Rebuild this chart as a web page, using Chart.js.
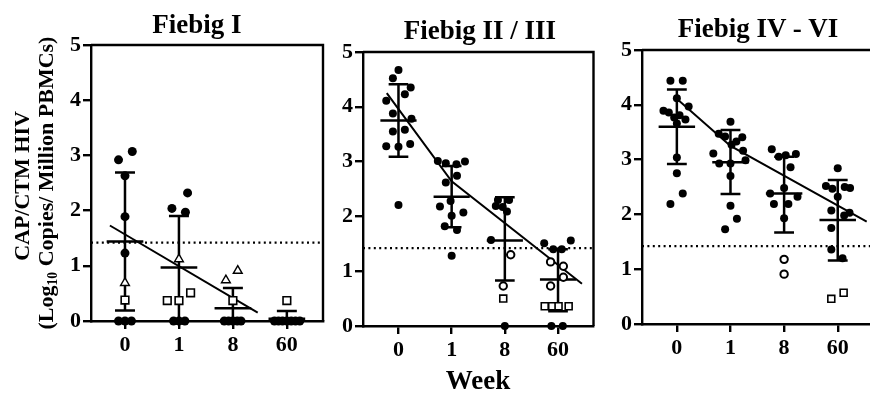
<!DOCTYPE html>
<html><head><meta charset="utf-8">
<script src="https://cdn.jsdelivr.net/npm/chart.js@4.4.1/dist/chart.umd.min.js"></script>
<style>
html,body{margin:0;padding:0;background:#fff;width:870px;height:393px;overflow:hidden;}
#wrap{position:relative;width:870px;height:393px;overflow:hidden;font-family:"Liberation Serif","Times New Roman",serif;font-weight:bold;color:#000;}
canvas{position:absolute;top:0;}
.t{position:absolute;white-space:nowrap;text-align:center;font-size:27px;line-height:27px;width:240px;}
.yl{position:absolute;white-space:nowrap;text-align:center;font-size:22px;line-height:22px;width:340px;transform:rotate(-90deg);transform-origin:50% 50%;}
.sub{font-size:0.62em;vertical-align:-0.3em;line-height:0;}
</style></head>
<body><div id="wrap">
<canvas id="c1" width="330" height="393" style="left:0px"></canvas>
<canvas id="c2" width="270" height="393" style="left:330px"></canvas>
<canvas id="c3" width="280" height="393" style="left:600px"></canvas>
<div class="t" style="left:77px;top:11px">Fiebig I</div>
<div class="t" style="left:360px;top:17px">Fiebig II / III</div>
<div class="t" style="left:638px;top:15px">Fiebig IV - VI</div>
<div class="t" style="left:358px;top:367px">Week</div>
<div class="yl" style="left:-148px;top:175px">CAP/CTM HIV</div>
<div class="yl" style="left:-124px;top:172px">(Log<span class="sub">10</span> Copies/ Million PBMCs)</div>
</div>
<script>
// ---------------- DATA ----------------
const categories = ['0', '1', '8', '60'];   // week labels
const yTicks = [0, 1, 2, 3, 4, 5];
const LOD = 1.42;                            // dotted detection limit

// points: [week index, horizontal jitter (category units), log10 value]
// Fiebig I
const fI_filled = [[0,-0.12,2.92],[0,0.135,3.07],[0,0,2.63],[0,0,1.89],[0,0,1.23],[0,-0.12,0],[0,0,0],[0,0.12,0],
  [1,0.16,2.32],[1,-0.13,2.04],[1,0.12,1.97],[1,-0.1,0],[1,0,0],[1,0.11,0],
  [2,-0.16,0],[2,-0.08,0],[2,0,0],[2,0.08,0],[2,0.15,0],
  [3,-0.23,0],[3,-0.155,0],[3,-0.08,0],[3,0,0],[3,0.08,0],[3,0.16,0],[3,0.24,0]];
const fI_triangles = [[0,0,0.69],[1,0,1.12],[2,-0.13,0.74],[2,0.09,0.91]];
const fI_squares = [[0,0,0.38],[1,-0.216,0.37],[1,0,0.37],[1,0.216,0.51],[2,0,0.37],[3,0,0.37]];
const fI_circlesOpen = [];
const fI_mean = [1.44, 0.97, 0.23, 0.04];
const fI_sdHi = [2.69, 1.90, 0.60, 0.18];
const fI_sdLo = [0.19, 0, 0, 0];
const fI_fit = [[-0.28, 1.73], [2.46, 0.15]];

// Fiebig II / III
const fII_filled = [[0,0,4.67],[0,-0.105,4.52],[0,0.23,4.35],[0,0.12,4.23],[0,-0.23,4.11],[0,-0.105,3.88],[0,0.245,3.78],[0,0.12,3.58],[0,-0.105,3.55],[0,-0.23,3.28],[0,0,3.27],[0,0.22,3.32],[0,0,2.21],
  [1,-0.26,3.01],[1,-0.11,2.97],[1,0.09,2.95],[1,0.25,3.0],[1,0.1,2.74],[1,-0.11,2.62],[1,-0.22,2.18],[1,-0.02,2.28],[1,0.22,2.07],[1,0,2.01],[1,-0.13,1.82],[1,0.1,1.75],[1,0,1.28],
  [2,-0.13,2.30],[2,0.08,2.30],[2,-0.17,2.19],[2,-0.04,2.17],[2,0.04,2.09],[2,-0.26,1.57],[2,0,0],
  [3,-0.26,1.51],[3,-0.09,1.40],[3,0.07,1.40],[3,0.24,1.56],[3,-0.125,0],[3,0.09,0]];
const fII_circlesOpen = [[2,0.11,1.30],[2,-0.03,0.73],[3,-0.14,1.17],[3,0.1,1.09],[3,0.1,0.89],[3,-0.14,0.73]];
const fII_squares = [[2,-0.03,0.50],[3,-0.25,0.36],[3,-0.11,0.36],[3,0.01,0.36],[3,0.2,0.36]];
const fII_triangles = [];
const fII_mean = [3.75, 2.36, 1.56, 0.85];
const fII_sdHi = [4.41, 2.92, 2.35, 1.40];
const fII_sdLo = [3.09, 1.80, 0.83, 0.27];
const fII_fit = [[-0.22, 4.25], [1, 2.64], [3.45, 0.77]];

// Fiebig IV - VI
const fIV_filled = [[0,-0.12,4.44],[0,0.11,4.44],[0,0,4.12],[0,-0.25,3.89],[0,-0.15,3.86],[0,-0.05,3.77],[0,0.05,3.81],[0,0.22,3.97],[0,0.16,3.73],[0,0,3.66],[0,0,3.04],[0,0,2.75],[0,0.11,2.38],[0,-0.12,2.19],
  [1,0,3.69],[1,-0.22,3.47],[1,-0.1,3.42],[1,0.22,3.41],[1,0.11,3.33],[1,0.02,3.27],[1,0.235,3.16],[1,-0.32,3.11],[1,-0.21,2.93],[1,0,2.93],[1,0.28,2.99],[1,0,2.70],[1,0,2.16],[1,0.12,1.92],[1,-0.1,1.73],
  [2,-0.23,3.19],[2,-0.1,3.05],[2,0.03,3.08],[2,0.22,3.10],[2,0.12,2.86],[2,0,2.48],[2,-0.26,2.38],[2,0.25,2.32],[2,-0.19,2.19],[2,0.08,2.19],[2,0,1.93],
  [3,0,2.84],[3,-0.22,2.52],[3,-0.1,2.47],[3,0.13,2.50],[3,0.23,2.48],[3,0,2.32],[3,-0.12,2.07],[3,0.12,1.98],[3,0.22,2.03],[3,-0.12,1.75],[3,-0.12,1.36],[3,0.09,1.20]];
const fIV_circlesOpen = [[2,0,1.18],[2,0,0.91]];
const fIV_squares = [[3,-0.12,0.46],[3,0.11,0.57]];
const fIV_triangles = [];
const fIV_mean = [3.60, 2.95, 2.38, 1.90];
const fIV_sdHi = [4.28, 3.54, 3.05, 2.63];
const fIV_sdLo = [2.92, 2.37, 1.67, 1.16];
const fIV_fit = [[0.02, 4.09], [1, 3.25], [3.54, 1.87]];

// ---------------- STYLE / LAYOUT ----------------
const CAP = 0.185, MEANW = 0.34;
const FONT = 'Liberation Serif';
Chart.defaults.font.family = FONT;
Chart.defaults.font.weight = 'bold';
Chart.defaults.color = '#000';

const boxPlugin = {
  id: 'box',
  beforeDatasetsDraw(chart) {
    const {ctx, chartArea: a} = chart;
    ctx.save();
    ctx.strokeStyle = '#000'; ctx.lineWidth = 2.4;
    ctx.beginPath();
    ctx.moveTo(a.left, a.top); ctx.lineTo(a.right, a.top); ctx.lineTo(a.right, a.bottom);
    ctx.stroke();
    ctx.restore();
  }
};

const toXY = arr => arr.map(([w, dx, v]) => ({x: w + dx, y: v}));

function makePanel(id, p) {
  const eb = [];
  p.mean.forEach((m, i) => {
    eb.push({x: i, y: p.lo[i]}, {x: i, y: p.hi[i]}, {x: i, y: null});
    eb.push({x: i - CAP, y: p.hi[i]}, {x: i + CAP, y: p.hi[i]}, {x: i, y: null});
    if (p.lo[i] > 0) eb.push({x: i - CAP, y: p.lo[i]}, {x: i + CAP, y: p.lo[i]}, {x: i, y: null});
    eb.push({x: i - MEANW, y: m}, {x: i + MEANW, y: m}, {x: i, y: null});
  });
  const datasets = [
    {type: 'scatter', data: toXY(p.circlesOpen), pointStyle: 'circle', pointRadius: p.r - 0.3,
      pointBackgroundColor: '#fff', pointBorderColor: '#000', pointBorderWidth: 2, order: 0, clip: false},
    {type: 'scatter', data: toXY(p.squares), pointStyle: 'rect', pointRadius: p.r + 0.9,
      pointBackgroundColor: '#fff', pointBorderColor: '#000', pointBorderWidth: 1.6, order: 0, clip: false},
    {type: 'scatter', data: toXY(p.triangles), pointStyle: 'triangle', pointRadius: p.r + 0.6,
      pointBackgroundColor: '#fff', pointBorderColor: '#000', pointBorderWidth: 1.4, order: 0, clip: false},
    {type: 'scatter', data: toXY(p.filled), pointStyle: 'circle', pointRadius: p.r,
      pointBackgroundColor: '#000', pointBorderColor: '#000', pointBorderWidth: 0, order: 1, clip: false},
    {type: 'line', data: eb, borderColor: '#000', borderWidth: 2.5, pointRadius: 0, spanGaps: false, order: 2, clip: false},
    {type: 'line', data: p.fit.map(([x, y]) => ({x, y})), borderColor: '#000', borderWidth: 2, pointRadius: 0, order: 3, clip: false},
    {type: 'line', data: [{x: p.xmin, y: LOD}, {x: p.xmax, y: LOD}], borderColor: '#000', borderWidth: 2.2,
      borderDash: [2, 3.4], pointRadius: 0, order: 4}
  ];
  return new Chart(document.getElementById(id), {
    data: {datasets},
    options: {
      responsive: false, animation: false, events: [],
      layout: {padding: p.pad},
      plugins: {legend: {display: false}, tooltip: {enabled: false}},
      scales: {
        x: {
          type: 'linear', min: p.xmin, max: p.xmax,
          afterBuildTicks: s => { s.ticks = categories.map((c, i) => ({value: i})); },
          afterFit: s => { s.height = 40; },
          ticks: {callback: v => categories[v], font: {size: 22, weight: 'bold', family: FONT}, color: '#000', padding: 3, maxRotation: 0, autoSkip: false},
          grid: {drawOnChartArea: false, drawTicks: true, tickLength: 8, tickWidth: 2.4, tickColor: '#000', color: '#000', lineWidth: 2.4},
          border: {display: true, color: '#000', width: 2.4}
        },
        y: {
          type: 'linear', min: 0, max: 5,
          afterBuildTicks: s => { s.ticks = yTicks.map(v => ({value: v})); },
          afterFit: s => { s.width = 30; },
          ticks: {font: {size: 22, weight: 'bold', family: FONT}, color: '#000', padding: 2},
          grid: {drawOnChartArea: false, drawTicks: true, tickLength: 8, tickWidth: 2.4, tickColor: '#000', color: '#000', lineWidth: 2.4},
          border: {display: true, color: '#000', width: 2.4}
        }
      }
    },
    plugins: [boxPlugin]
  });
}

makePanel('c1', {filled: fI_filled, circlesOpen: fI_circlesOpen, squares: fI_squares, triangles: fI_triangles,
  mean: fI_mean, hi: fI_sdHi, lo: fI_sdLo, fit: fI_fit, xmin: -0.63, xmax: 3.67, r: 4.5,
  pad: {left: 61, right: 7, top: 45, bottom: 32}});
makePanel('c2', {filled: fII_filled, circlesOpen: fII_circlesOpen, squares: fII_squares, triangles: fII_triangles,
  mean: fII_mean, hi: fII_sdHi, lo: fII_sdLo, fit: fII_fit, xmin: -0.667, xmax: 3.667, r: 4,
  pad: {left: 3, right: 3, top: 52, bottom: 27}});
makePanel('c3', {filled: fIV_filled, circlesOpen: fIV_circlesOpen, squares: fIV_squares, triangles: fIV_triangles,
  mean: fIV_mean, hi: fIV_sdHi, lo: fIV_sdLo, fit: fIV_fit, xmin: -0.65, xmax: 3.667, r: 4,
  pad: {left: 12, right: 5, top: 50, bottom: 29}});
</script>
</body></html>
